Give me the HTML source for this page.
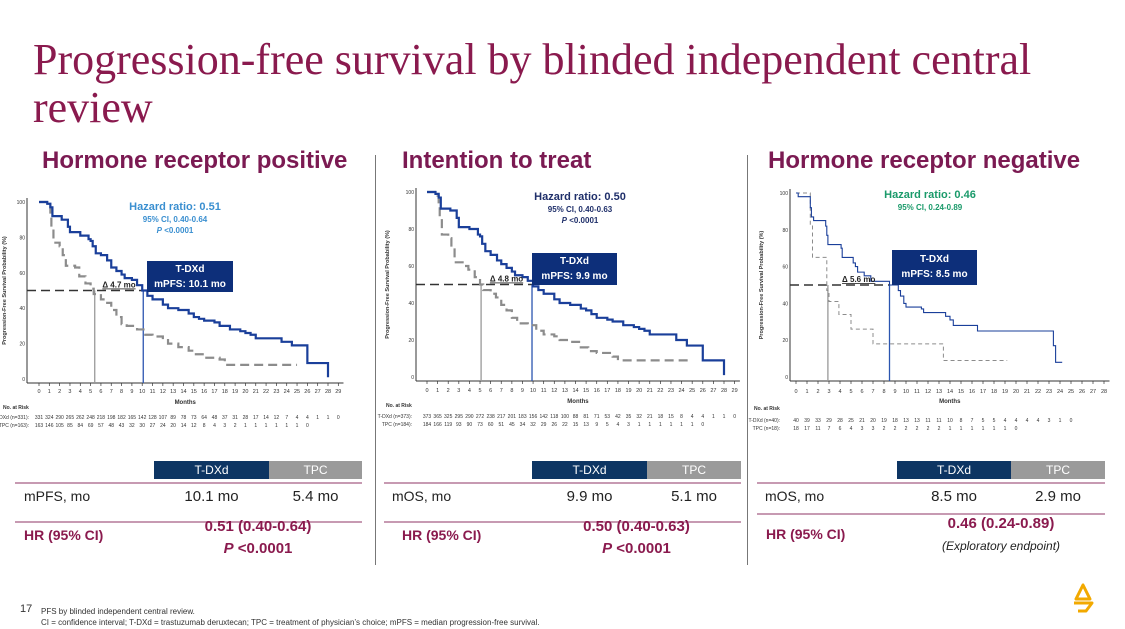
<!DOCTYPE html>
<html><head><meta charset="utf-8">
<style>
body{margin:0;width:1125px;height:629px;background:#fff;overflow:hidden;position:relative;font-family:"Liberation Sans",sans-serif}
.a{position:absolute;white-space:nowrap}
.title{left:33px;top:36px;font-family:"Liberation Serif",serif;font-size:44px;line-height:48px;color:#8a1a4e}
.sub{top:147px;font-size:24px;font-weight:bold;color:#7b1a52}
.hdr{height:18px;top:461px;color:#fff;font-size:12px;text-align:center;line-height:18px}
.cell{font-size:14px;color:#222;top:488px}
.hr{font-size:14px;font-weight:bold;color:#8a1a4e}
.pl{position:absolute;height:2px;background:#c79ab2}
.box{background:#0d2f7a;color:#fff;font-weight:bold;font-size:10px;text-align:center;line-height:15px;padding-top:1px}
</style></head><body>
<div class="a title">Progression-free survival by blinded independent central<br>review</div>
<div class="a sub" style="left:42px">Hormone receptor positive</div>
<div class="a sub" style="left:402px">Intention to treat</div>
<div class="a sub" style="left:768px">Hormone receptor negative</div>
<div class="a" style="left:375px;top:155px;width:1px;height:410px;background:#777"></div>
<div class="a" style="left:747px;top:155px;width:1px;height:410px;background:#777"></div>

<svg id="chart" class="a" style="left:0;top:0" width="1125" height="629"></svg>

<div class="a" style="left:90px;top:201px;width:170px;text-align:center;color:#3a8fd0;font-weight:bold"><div style="font-size:11px">Hazard ratio: 0.51</div><div style="font-size:8px;margin-top:2px">95% CI, 0.40-0.64</div><div style="font-size:8px;margin-top:2px"><i>P</i> &lt;0.0001</div></div>
<div class="a" style="left:495px;top:191px;width:170px;text-align:center;color:#1f2f6a;font-weight:bold"><div style="font-size:11px">Hazard ratio: 0.50</div><div style="font-size:8px;margin-top:2px">95% CI, 0.40-0.63</div><div style="font-size:8px;margin-top:2px"><i>P</i> &lt;0.0001</div></div>
<div class="a" style="left:845px;top:189px;width:170px;text-align:center;color:#1a9a6a;font-weight:bold"><div style="font-size:11px">Hazard ratio: 0.46</div><div style="font-size:8px;margin-top:2px">95% CI, 0.24-0.89</div></div>
<div class="a box" style="left:147px;top:261px;width:86px;height:30px">T-DXd<br>mPFS: 10.1 mo</div>
<div class="a box" style="left:532px;top:253px;width:85px;height:31px">T-DXd<br>mPFS: 9.9 mo</div>
<div class="a box" style="left:892px;top:250px;width:85px;height:33px;padding-top:2px">T-DXd<br>mPFS: 8.5 mo</div>

<div class="a hdr" style="left:154px;width:115px;background:#0d3563">T-DXd</div>
<div class="a hdr" style="left:269px;width:93px;background:#9a9a9a">TPC</div>
<div class="pl" style="left:15px;width:347px;top:482px"></div>
<div class="pl" style="left:15px;width:347px;top:521px"></div>
<div class="a cell" style="left:24px">mPFS, mo</div>
<div class="a cell" style="left:154px;width:115px;text-align:center;font-size:15px">10.1 mo</div>
<div class="a cell" style="left:269px;width:93px;text-align:center;font-size:15px">5.4 mo</div>
<div class="a hr" style="left:24px;top:527px">HR (95% CI)</div>
<div class="a hr" style="left:154px;width:208px;text-align:center;top:516px;font-size:15px;line-height:22px">0.51 (0.40-0.64)<br><i>P</i> &lt;0.0001</div>

<div class="a hdr" style="left:532px;width:115px;background:#0d3563">T-DXd</div>
<div class="a hdr" style="left:647px;width:94px;background:#9a9a9a">TPC</div>
<div class="pl" style="left:384px;width:357px;top:482px"></div>
<div class="pl" style="left:384px;width:357px;top:521px"></div>
<div class="a cell" style="left:392px">mOS, mo</div>
<div class="a cell" style="left:532px;width:115px;text-align:center;font-size:15px">9.9 mo</div>
<div class="a cell" style="left:647px;width:94px;text-align:center;font-size:15px">5.1 mo</div>
<div class="a hr" style="left:402px;top:527px">HR (95% CI)</div>
<div class="a hr" style="left:532px;width:209px;text-align:center;top:516px;font-size:15px;line-height:22px">0.50 (0.40-0.63)<br><i>P</i> &lt;0.0001</div>

<div class="a hdr" style="left:897px;width:114px;background:#0d3563">T-DXd</div>
<div class="a hdr" style="left:1011px;width:94px;background:#9a9a9a">TPC</div>
<div class="pl" style="left:757px;width:348px;top:482px"></div>
<div class="pl" style="left:757px;width:348px;top:513px"></div>
<div class="a cell" style="left:765px">mOS, mo</div>
<div class="a cell" style="left:897px;width:114px;text-align:center;font-size:15px">8.5 mo</div>
<div class="a cell" style="left:1011px;width:94px;text-align:center;font-size:15px">2.9 mo</div>
<div class="a hr" style="left:766px;top:526px">HR (95% CI)</div>
<div class="a hr" style="left:897px;width:208px;text-align:center;top:515px;font-size:15px">0.46 (0.24-0.89)</div>
<div class="a" style="left:897px;width:208px;text-align:center;top:539px;font-size:12px;font-style:italic;color:#222">(Exploratory endpoint)</div>

<div class="a" style="left:20px;top:603px;font-size:11px;color:#333">17</div>
<div class="a" style="left:41px;top:606px;font-size:8px;color:#333;line-height:11px">PFS by blinded independent central review.<br>CI = confidence interval; T-DXd = trastuzumab deruxtecan; TPC = treatment of physician’s choice; mPFS = median progression-free survival.</div>
<svg class="a" style="left:1068px;top:583px" width="30" height="32"><path d="M15 2 L8 16 L22 16 Z M6 20 L24 20 L18 28 L10 28" fill="none" stroke="#f2a900" stroke-width="3" stroke-linejoin="round"/></svg>

<script>
const c1TdxdMonths=[0,0.8,1.1,1.3,2.2,2.8,3,4,4.8,5,5.2,5.5,6,6.6,7,7.5,8,8.3,9,9.5,10,10.5,11,12,12.5,13.5,14.5,15,15.5,16,17,17.5,18.5,19.5,20,20.5,21,23,23.5,24.5,26,28];
const c1TdxdSurv=[100,99,97,92,90,86,83,81,79,78,75,71,70,67,63,61,59,57,56,53,50,47,45,42,40,39,37,35,34,33,32,30,28,27,26,25,23,23,21,19,9,1];
const c1TpcMonths=[0,1,1.1,1.2,1.4,2,2.3,2.6,3.5,3.9,4.5,5,5.3,6,6.5,7,7.5,8,8.5,9.5,10.3,11,12,12.5,13.5,14.5,15.2,16,17.5,18,25];
const c1TpcSurv=[100,98,92,86,77,75,70,64,63,58,54,51,48,45,43,39,35,31,30,28,25,24,22,20,18,16,14,12,11,8,8];
const c2TdxdMonths=[0,0.8,1.1,1.3,2.2,2.8,3,4,4.8,5,5.2,5.5,6,6.6,7,7.5,8,8.3,9,9.5,10,10.5,11,12,12.5,13.5,14.5,15,15.5,16,17,17.5,18.5,19.5,20,20.5,21,23,23.5,24.5,26,28];
const c2TdxdSurv=[100,99,97,91,90,86,81,80,77,76,72,68,66,63,61,59,57,55,54,52,49,47,45,42,40,39,37,36,34,32,31,30,28,27,26,25,23,23,20,17,9,1];
const c2TpcMonths=[0,1,1.1,1.2,1.4,2,2.3,2.6,3.5,3.9,4.5,5,5.3,6,6.5,7,7.5,8,8.5,9.5,10.3,11,12,12.5,13.5,14.5,15.2,16,17.5,18,25];
const c2TpcSurv=[100,98,92,86,77,75,70,62,60,58,54,50,47,45,43,39,36,32,29,28,25,23,22,20,19,16,14,13,11,9,9];
const c3TdxdMonths=[0,0.2,1.2,1.3,1.4,1.6,2.7,2.8,2.9,3.9,4.1,4.2,5.2,5.4,5.6,6.2,6.8,8.5,9.3,9.5,9.8,10,11.4,11.6,13.6,14,14.3,16.5,23.2,23.4,23.6,24.2];
const c3TdxdSurv=[100,98,98,92,87,85,82,77,72,72,70,65,62,60,57,55,52,50,47,44,40,38,37,35,33,31,28,25,25,17,8,8];
const c3TpcMonths=[0,1.2,1.3,1.5,2.6,2.8,3.0,3.9,5.0,7.0,13.4,19.2];
const c3TpcSurv=[100,100,83,65,65,47,41,34,26,18,9,9];
const c1RiskTdxd=[331,324,290,265,262,248,218,198,182,165,142,128,107,89,78,73,64,48,37,31,28,17,14,12,7,4,4,1,1,0];
const c1RiskTpc=[163,146,105,85,84,69,57,48,43,32,30,27,24,20,14,12,8,4,3,2,1,1,1,1,1,1,0];
const c2RiskTdxd=[373,365,325,295,290,272,238,217,201,183,156,142,118,100,88,81,71,53,42,35,32,21,18,15,8,4,4,1,1,0];
const c2RiskTpc=[184,166,119,93,90,73,60,51,45,34,32,29,26,22,15,13,9,5,4,3,1,1,1,1,1,1,0];
const c3RiskTdxd=[40,39,33,29,28,25,21,20,19,18,13,13,11,11,10,8,7,5,5,4,4,4,4,3,1,0];
const c3RiskTpc=[18,17,11,7,6,4,3,3,2,2,2,2,2,2,1,1,1,1,1,1,0];
const yTicks=[0,20,40,60,80,100];
const medians=[[10.1,5.4],[9.9,5.1],[8.5,2.9]];

const svg=document.getElementById('chart');
const NS='http://www.w3.org/2000/svg';
function mk(t,a,txt){const e=document.createElementNS(NS,t);for(const k in a)e.setAttribute(k,a[k]);if(txt!==undefined)e.textContent=txt;svg.appendChild(e);return e;}
const charts=[
 {x0:39,x28:328,y0:379,y100:202,ax:27,maxM:29,tdM:c1TdxdMonths,tdS:c1TdxdSurv,tpM:c1TpcMonths,tpS:c1TpcSurv,rT:c1RiskTdxd,rP:c1RiskTpc,nT:'T-DXd (n=331):',nP:'TPC (n=163):',lblX:29,tickY:393,monY:404,narY:409,r1:419,r2:427,ytX:6,delta:'Δ 4.7 mo',thin:false},
 {x0:427,x28:724,y0:377,y100:192,ax:416,maxM:29,tdM:c2TdxdMonths,tdS:c2TdxdSurv,tpM:c2TpcMonths,tpS:c2TpcSurv,rT:c2RiskTdxd,rP:c2RiskTpc,nT:'T-DXd (n=373):',nP:'TPC (n=184):',lblX:412,tickY:392,monY:403,narY:407,r1:418,r2:426,ytX:389,delta:'Δ 4.8 mo',thin:false},
 {x0:796,x28:1104,y0:377,y100:193,ax:790,maxM:28,tdM:c3TdxdMonths,tdS:c3TdxdSurv,tpM:c3TpcMonths,tpS:c3TpcSurv,rT:c3RiskTdxd,rP:c3RiskTpc,nT:'T-DXd (n=40):',nP:'TPC (n=18):',lblX:780,tickY:393,monY:403,narY:410,r1:422,r2:430,ytX:763,delta:'Δ 5.6 mo',thin:true}
];
charts.forEach((c,i)=>{
 const X=m=>c.x0+(c.x28-c.x0)*m/28, Y=s=>c.y0-(c.y0-c.y100)*s/100;
 const xEnd=X(c.maxM+0.5);
 mk('line',{x1:c.ax,y1:c.y100-4,x2:c.ax,y2:c.y0+4,stroke:'#333','stroke-width':1});
 mk('line',{x1:c.ax,y1:c.y0+4,x2:xEnd,y2:c.y0+4,stroke:'#333','stroke-width':1});
 yTicks.forEach(t=>{mk('text',{x:c.ax-2,y:Y(t)+2,'font-size':5,'text-anchor':'end',fill:'#333'},t);});
 for(let m=0;m<=c.maxM;m++){mk('line',{x1:X(m),y1:c.y0+4,x2:X(m),y2:c.y0+7,stroke:'#333','stroke-width':0.7});
  mk('text',{x:X(m),y:c.tickY,'font-size':5.5,'text-anchor':'middle',fill:'#333'},m);}
 mk('text',{x:(c.ax+xEnd)/2,y:c.monY,'font-size':6,'font-weight':'bold','text-anchor':'middle',fill:'#333'},'Months');
 mk('text',{x:0,y:0,'font-size':5.5,'font-weight':'bold','text-anchor':'middle',fill:'#333',transform:`translate(${c.ytX},${(c.y0+c.y100)/2}) rotate(-90)`},'Progression-Free Survival Probability (%)');
 mk('text',{x:c.lblX-26,y:c.narY,'font-size':5,'font-weight':'bold',fill:'#333'},'No. at Risk');
 mk('text',{x:c.lblX,y:c.r1,'font-size':5,'text-anchor':'end',fill:'#333'},c.nT);
 mk('text',{x:c.lblX,y:c.r2,'font-size':5,'text-anchor':'end',fill:'#333'},c.nP);
 c.rT.forEach((v,m)=>mk('text',{x:X(m),y:c.r1,'font-size':5,'text-anchor':'middle',fill:'#333'},v));
 c.rP.forEach((v,m)=>mk('text',{x:X(m),y:c.r2,'font-size':5,'text-anchor':'middle',fill:'#333'},v));
 const [mT,mP]=medians[i];
 mk('line',{x1:c.ax,y1:Y(50),x2:X(mT),y2:Y(50),stroke:'#333','stroke-width':1.5,'stroke-dasharray':'9 5'});
 mk('line',{x1:X(mP),y1:Y(50),x2:X(mP),y2:c.y0+4,stroke:'#999','stroke-width':1.3});
 mk('line',{x1:X(mT),y1:Y(50),x2:X(mT),y2:c.y0+4,stroke:'#2b55b0','stroke-width':1.3});
 const path=(ms,ss)=>{let d=`M${X(ms[0])},${Y(ss[0])}`;for(let k=1;k<ms.length;k++)d+=` H${X(ms[k])} V${Y(ss[k])}`;return d;};
 const tp=mk('path',{d:path(c.tpM,c.tpS),fill:'none',stroke:'#8c8c8c','stroke-width':c.thin?1:2.2,'stroke-dasharray':c.thin?'4 3':'9 5'});
 
 
 const td=mk('path',{d:path(c.tdM,c.tdS),fill:'none',stroke:'#1a3f9a','stroke-width':c.thin?1.1:2.2});
 
 
 const dl=mk('text',{x:(X(mP)+X(mT))/2,y:Y(50)-3,'font-size':8,'font-weight':'bold','text-anchor':'middle',fill:'#222','text-decoration':'underline'},c.delta);
 
 
});
</script>
</body></html>
